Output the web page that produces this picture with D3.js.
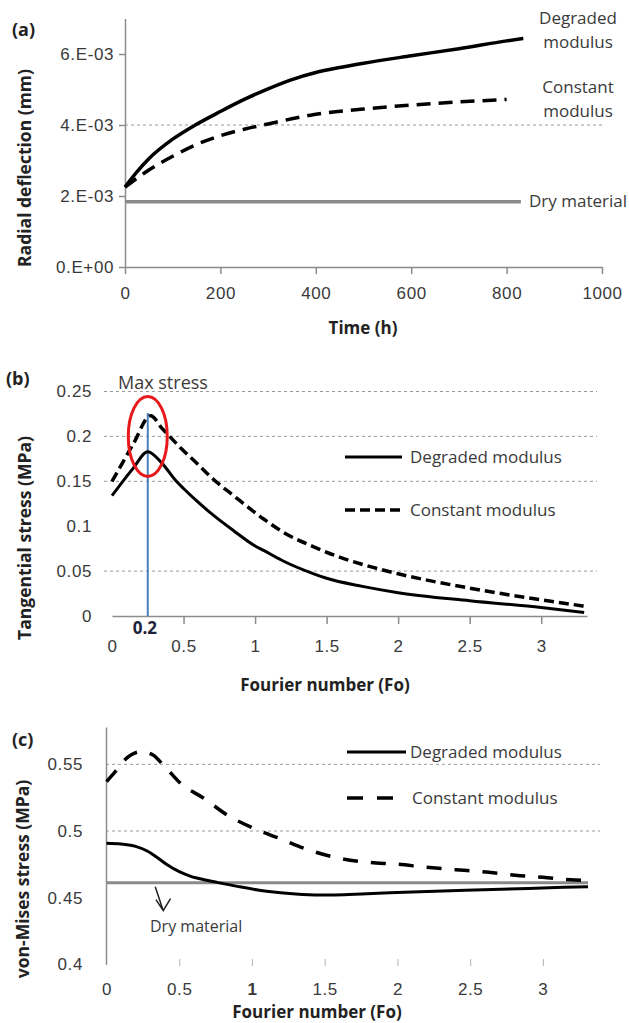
<!DOCTYPE html>
<html>
<head>
<meta charset="utf-8">
<script src="https://cdn.jsdelivr.net/npm/d3@7"></script>
<style>
  body { margin: 0; background: #fff; }
  svg { font-family: "Open Sans", "DejaVu Sans", sans-serif; }
</style>
</head>
<body>
<div id="chart"></div>
<script>
// ---- data ----
// (a) radial deflection vs time
var timeDeg = [0, 25, 50, 100, 150, 200, 250, 300, 350, 400, 450, 500, 600, 700, 800, 835];
var deflDeg = [2.25e-3, 2.68e-3, 3.05e-3, 3.6e-3, 4.02e-3, 4.38e-3, 4.72e-3, 5.02e-3, 5.28e-3, 5.48e-3, 5.62e-3, 5.74e-3, 5.95e-3, 6.15e-3, 6.37e-3, 6.44e-3];
var timeConst = [0, 25, 50, 100, 150, 200, 250, 300, 400, 500, 600, 700, 800];
var deflConst = [2.25e-3, 2.5e-3, 2.73e-3, 3.12e-3, 3.45e-3, 3.7e-3, 3.88e-3, 4.03e-3, 4.3e-3, 4.45e-3, 4.56e-3, 4.65e-3, 4.72e-3];
var timeDry = [0, 830];
var deflDry = [1.84e-3, 1.84e-3];
var timeTicks = [0, 200, 400, 600, 800, 1000];
var deflTicks = [0, 0.002, 0.004, 0.006];
var deflTickLabels = ["0.E+00", "2.E-03", "4.E-03", "6.E-03"];
var deflGrid = [0.004];

// (b) tangential stress vs Fourier number
var foTanDeg = [0, 0.1, 0.15, 0.25, 0.35, 0.45, 0.5, 0.6, 0.71, 0.85, 1.0, 1.06, 1.2, 1.41, 1.5, 1.75, 2.0, 2.5, 3.0, 3.3];
var tanDeg = [0.134, 0.155, 0.165, 0.183, 0.17, 0.15, 0.142, 0.127, 0.112, 0.095, 0.078, 0.073, 0.061, 0.047, 0.042, 0.033, 0.026, 0.017, 0.0095, 0.004];
var foTanConst = [0, 0.1, 0.15, 0.27, 0.35, 0.475, 0.6, 0.71, 0.85, 1.06, 1.2, 1.41, 1.6, 1.76, 2.0, 2.5, 3.0, 3.3];
var tanConst = [0.15, 0.178, 0.192, 0.223, 0.209, 0.188, 0.169, 0.152, 0.134, 0.108, 0.093, 0.077, 0.065, 0.057, 0.047, 0.031, 0.018, 0.011];
var maxStressFo = 0.25;
var maxStressTop = 0.226;
var foTicks = [0, 0.5, 1, 1.5, 2, 2.5, 3];
var foTickLabels = ["0", "0.5", "1", "1.5", "2", "2.5", "3"];
var tanTicks = [0, 0.05, 0.1, 0.15, 0.2, 0.25];
var tanTickLabels = ["0", "0.05", "0.1", "0.15", "0.2", "0.25"];
var tanGrid = [0.05, 0.15, 0.2, 0.25];

// (c) von-Mises stress vs Fourier number
var foVmDeg = [0, 0.1, 0.2, 0.28, 0.35, 0.42, 0.5, 0.58, 0.68, 0.76, 0.9, 1.1, 1.3, 1.47, 1.79, 2.1, 2.47, 2.9, 3.31];
var vmDeg = [0.4908, 0.4902, 0.4885, 0.4850, 0.4800, 0.4745, 0.4695, 0.4660, 0.4633, 0.4615, 0.4585, 0.4548, 0.4527, 0.4520, 0.4530, 0.4543, 0.4556, 0.4570, 0.4583];
var foVmConst = [0, 0.06, 0.125, 0.24, 0.32, 0.39, 0.52, 0.66, 0.83, 1.02, 1.2, 1.39, 1.6, 1.79, 2.0, 2.2, 2.4, 2.61, 2.81, 3.0, 3.22, 3.31];
var vmConst = [0.537, 0.5445, 0.5533, 0.5595, 0.557, 0.5496, 0.5346, 0.5252, 0.512, 0.5016, 0.494, 0.4858, 0.4796, 0.4766, 0.4751, 0.4728, 0.471, 0.4693, 0.4668, 0.4653, 0.4633, 0.463];
var foVmDry = [0, 3.31];
var vmDry = [0.4613, 0.4613];
var vmTicks = [0.4, 0.45, 0.5, 0.55];
var vmTickLabels = ["0.4", "0.45", "0.5", "0.55"];
var vmGrid = [0.5, 0.55];

var axisColor = "#8c8c8c",
    textColor = "#3a3a3a";

var svg = d3.select("#chart")
    .append("svg")
    .attr("width", 629)
    .attr("height", 1023);

function zip(xs, ys) {
    return xs.map(function(d, i) { return [d, ys[i]]; });
}

function drawLine(g, x, y, pts, opts) {
    var line = d3.line()
        .x(function(d) { return x(d[0]); })
        .y(function(d) { return y(d[1]); })
        .curve(d3.curveMonotoneX);
    g.append("path")
        .datum(pts)
        .attr("d", line)
        .attr("fill", "none")
        .attr("stroke", opts.color || "#000")
        .attr("stroke-width", opts.width || 3)
        .attr("stroke-dasharray", opts.dash || null);
}

function grid(g, y, values, x0, x1) {
    g.selectAll(null)
        .data(values)
        .enter()
        .append("line")
        .attr("x1", x0).attr("x2", x1)
        .attr("y1", function(d) { return y(d); })
        .attr("y2", function(d) { return y(d); })
        .attr("stroke", "#9a9a9a")
        .attr("stroke-width", 1)
        .attr("stroke-dasharray", "3,3");
}

function styleAxis(ax) {
    ax.selectAll(".domain").attr("stroke", axisColor).attr("stroke-width", 1.5);
    ax.selectAll(".tick line").attr("stroke", axisColor).attr("stroke-width", 1.5);
    ax.selectAll("text")
        .attr("fill", textColor)
        .style("font-size", "17px")
        .style("letter-spacing", "0.6px");
}

function label(g, txt, x, y, opts) {
    opts = opts || {};
    var t = g.append("text")
        .attr("x", x)
        .attr("y", y)
        .attr("fill", opts.color || textColor)
        .attr("text-anchor", opts.anchor || "start")
        .style("font-size", (opts.size || 17) + "px")
        .style("font-weight", opts.bold ? "bold" : "normal")
        .text(txt);
    if (opts.rotate) {
        t.attr("transform", "rotate(-90," + x + "," + y + ")");
    }
    return t;
}

// ================= (a) =================
var ga = svg.append("g");
var xa = d3.scaleLinear().domain([0, 1000]).range([125, 602]);
var ya = d3.scaleLinear().domain([0, 0.007]).range([267, 18.5]);

grid(ga, ya, deflGrid, 125, 602);

var axA = ga.append("g")
    .attr("transform", "translate(0,267)")
    .call(d3.axisBottom(xa).tickValues(timeTicks).tickSize(7).tickSizeOuter(0).tickFormat(d3.format("d")));
styleAxis(axA);
axA.selectAll("text").attr("y", 32).attr("dy", 0);

var ayA = ga.append("g")
    .attr("transform", "translate(125,0)")
    .call(d3.axisLeft(ya).tickValues(deflTicks).tickSize(6).tickSizeOuter(0)
        .tickFormat(function(d, i) { return deflTickLabels[i]; }));
styleAxis(ayA);
ayA.selectAll("text").attr("x", -11);

drawLine(ga, xa, ya, zip(timeDry, deflDry), { color: "#8a8a8a", width: 3.5 });
drawLine(ga, xa, ya, zip(timeConst, deflConst), { width: 3.5, dash: "14,8" });
drawLine(ga, xa, ya, zip(timeDeg, deflDeg), { width: 3.5 });

label(ga, "Degraded", 578, 24, { anchor: "middle" });
label(ga, "modulus", 578, 48, { anchor: "middle" });
label(ga, "Constant", 578, 93, { anchor: "middle" });
label(ga, "modulus", 578, 117, { anchor: "middle" });
label(ga, "Dry material", 529, 207);

label(ga, "(a)", 12, 36, { bold: true, size: 18, color: "#222" });
label(ga, "Time (h)", 363, 334, { bold: true, anchor: "middle", color: "#222" });
label(ga, "Radial deflection (mm)", 31, 168, { bold: true, size: 17.5, anchor: "middle", rotate: true, color: "#222" });

// ================= (b) =================
var gb = svg.append("g");
var xb = d3.scaleLinear().domain([0, 3.32]).range([112, 587]);
var yb = d3.scaleLinear().domain([0, 0.25]).range([616, 391.5]);

grid(gb, yb, tanGrid, 104, 597);

var axB = gb.append("g")
    .attr("transform", "translate(0,616)")
    .call(d3.axisBottom(xb).tickValues(foTicks).tickSize(8).tickSizeOuter(0)
        .tickFormat(function(d, i) { return foTickLabels[i]; }));
styleAxis(axB);
axB.selectAll("text").attr("y", 36).attr("dy", 0);
axB.selectAll(".tick line").filter(function(d) { return d === 0; }).remove();

var ayB = gb.append("g")
    .attr("transform", "translate(92,0)")
    .call(d3.axisLeft(yb).tickValues(tanTicks).tickSize(0)
        .tickFormat(function(d, i) { return tanTickLabels[i]; }));
styleAxis(ayB);
ayB.select(".domain").remove();
ayB.selectAll("text").attr("x", 0);

// max stress marker
gb.append("line")
    .attr("x1", xb(maxStressFo)).attr("x2", xb(maxStressFo))
    .attr("y1", yb(0)).attr("y2", yb(maxStressTop))
    .attr("stroke", "#4a7ebb")
    .attr("stroke-width", 2);

drawLine(gb, xb, yb, zip(foTanConst, tanConst), { width: 3.5, dash: "10,5" });
drawLine(gb, xb, yb, zip(foTanDeg, tanDeg), { width: 3 });

gb.append("ellipse")
    .attr("cx", xb(maxStressFo))
    .attr("cy", yb(0.2))
    .attr("rx", 19.5)
    .attr("ry", 40)
    .attr("fill", "none")
    .attr("stroke", "#e8191c")
    .attr("stroke-width", 3);

label(gb, "Max stress", 118, 389, { size: 18 });
label(gb, "0.2", xb(0.23), 634, { bold: true, anchor: "middle", color: "#1d2238" });

// legend
gb.append("line").attr("x1", 345).attr("x2", 402).attr("y1", 457).attr("y2", 457)
    .attr("stroke", "#000").attr("stroke-width", 3);
gb.append("line").attr("x1", 345).attr("x2", 404).attr("y1", 510).attr("y2", 510)
    .attr("stroke", "#000").attr("stroke-width", 3.5).attr("stroke-dasharray", "10,5");
label(gb, "Degraded modulus", 410, 463);
label(gb, "Constant modulus", 410, 516);

label(gb, "(b)", 6, 385, { bold: true, size: 18, color: "#222" });
label(gb, "Fourier number (Fo)", 325, 691, { bold: true, anchor: "middle", color: "#222" });
label(gb, "Tangential stress (MPa)", 31, 538, { bold: true, size: 17.5, anchor: "middle", rotate: true, color: "#222" });

// ================= (c) =================
var gc = svg.append("g");
var xc = d3.scaleLinear().domain([0, 3.31]).range([106.5, 588]);
var yc = d3.scaleLinear().domain([0.4, 0.578]).range([964.4, 727]);

grid(gc, yc, vmGrid, 106, 600);

var axC = gc.append("g")
    .attr("transform", "translate(0,959)")
    .call(d3.axisBottom(xc).tickValues(foTicks).tickSize(7).tickSizeOuter(0)
        .tickFormat(function(d, i) { return foTickLabels[i]; }));
styleAxis(axC);
axC.select(".domain").remove();
axC.selectAll(".tick line").attr("stroke", "#b5b5b5").attr("stroke-width", 1);
axC.selectAll(".tick line").filter(function(d) { return d === 0; }).remove();
axC.selectAll("text").attr("y", 36).attr("dy", 0)
    .style("font-weight", function(d) { return d === 1 ? "bold" : "normal"; });

var ayC = gc.append("g")
    .attr("transform", "translate(106,0)")
    .call(d3.axisLeft(yc).tickValues(vmTicks).tickSize(0).tickSizeOuter(0)
        .tickFormat(function(d, i) { return vmTickLabels[i]; }));
styleAxis(ayC);
ayC.selectAll("text").attr("x", -23);

drawLine(gc, xc, yc, zip(foVmDry, vmDry), { color: "#8a8a8a", width: 3 });
drawLine(gc, xc, yc, zip(foVmConst, vmConst), { width: 3.5, dash: "15,13" });
drawLine(gc, xc, yc, zip(foVmDeg, vmDeg), { width: 3 });

// dry material note with arrow
gc.append("path")
    .attr("d", "M" + xc(0.335) + "," + (yc(0.4613) + 4) + " L" + xc(0.39) + "," + (yc(0.4613) + 28) +
        " M" + xc(0.34) + "," + (yc(0.4613) + 17) + " L" + xc(0.39) + "," + (yc(0.4613) + 28) +
        " L" + xc(0.44) + "," + (yc(0.4613) + 16))
    .attr("fill", "none")
    .attr("stroke", "#222")
    .attr("stroke-width", 1.5);
label(gc, "Dry material", 150, 932, { size: 16 });

// legend
gc.append("line").attr("x1", 347).attr("x2", 406).attr("y1", 752).attr("y2", 752)
    .attr("stroke", "#000").attr("stroke-width", 3);
gc.append("line").attr("x1", 347).attr("x2", 393).attr("y1", 798).attr("y2", 798)
    .attr("stroke", "#000").attr("stroke-width", 3.5).attr("stroke-dasharray", "16,14");
label(gc, "Degraded modulus", 410, 758);
label(gc, "Constant modulus", 412, 804);

label(gc, "(c)", 12, 746, { bold: true, size: 18, color: "#222" });
label(gc, "Fourier number (Fo)", 317, 1018, { bold: true, anchor: "middle", color: "#222" });
label(gc, "von-Mises stress (MPa)", 29, 879, { bold: true, size: 17.5, anchor: "middle", rotate: true, color: "#222" });
</script>
</body>
</html>
